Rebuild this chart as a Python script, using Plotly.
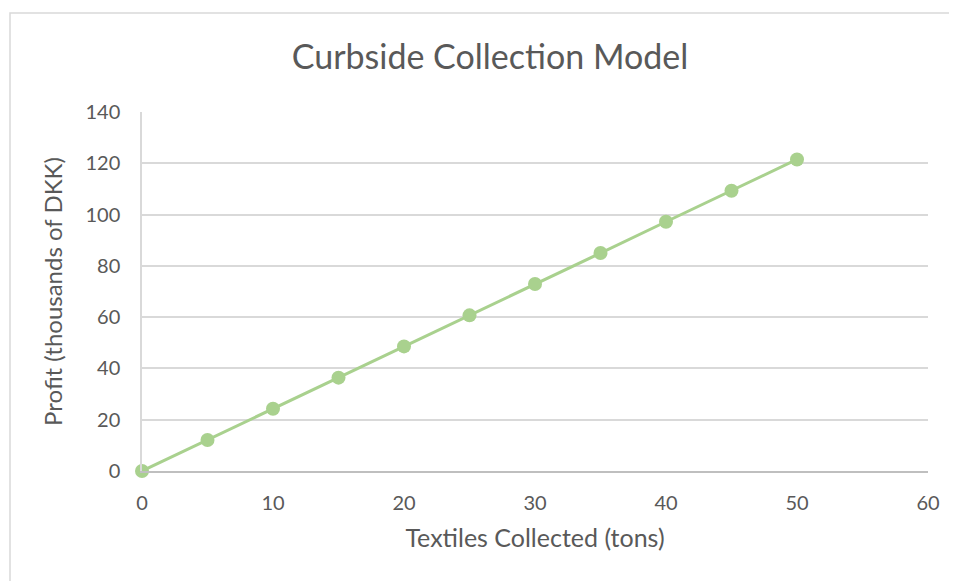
import plotly.graph_objects as go

tons = [0, 5, 10, 15, 20, 25, 30, 35, 40, 45, 50]
profit = [0, 12.1, 24.3, 36.4, 48.6, 60.7, 72.9, 85.0, 97.2, 109.3, 121.5]
x_ticks = [0, 10, 20, 30, 40, 50, 60]
y_ticks = [0, 20, 40, 60, 80, 100, 120, 140]

OFF = 8  # page body margin
W, H = 957 - OFF, 581 - OFF
# target pixel positions in the window
PL, PR, PT, PB = 142, 928, 112, 471
L, T = PL - OFF, PT - OFF
R = W - (PR - OFF)
B = H - (PB - OFF)
pw, ph = W - L - R, H - T - B

def px_x(p):
    return (p - OFF - L) / pw

def px_y(p):
    return (PB - p) / ph

green = "#A9D18E"
grey_text = "#595959"
font = "Lato"

fig = go.Figure()
fig.add_trace(go.Scatter(
    x=tons, y=profit, mode="lines+markers",
    line=dict(color=green, width=3),
    marker=dict(color=green, size=14),
    cliponaxis=False,
    showlegend=False, hoverinfo="x+y",
))

fig.update_layout(
    width=W, height=H,
    margin=dict(l=L, r=R, t=T, b=B),
    paper_bgcolor="white", plot_bgcolor="white",
    font=dict(family=font, color=grey_text, size=18),
    title=dict(text="Curbside Collection Model", x=px_x(490), xref="paper",
               xanchor="center", y=1 - (57 - OFF) / H, yref="container", yanchor="middle",
               font=dict(size=34, color=grey_text, family=font)),
    xaxis=dict(range=[0, 60], tickvals=x_ticks, showgrid=False, zeroline=False,
               showline=True, linecolor="#BFBFBF", linewidth=2,
               ticks="", ticklabelstandoff=13,
               tickfont=dict(size=20, color=grey_text),
               title=dict(text="Textiles Collected (tons)", standoff=16,
                          font=dict(size=25, color=grey_text))),
    yaxis=dict(range=[0, 140], tickvals=y_ticks, showgrid=True, gridcolor="#D9D9D9",
               gridwidth=1.5, zeroline=False, showline=True, linecolor="#D9D9D9",
               linewidth=1.5, ticks="", ticklabelstandoff=16,
               tickfont=dict(size=20, color=grey_text),
               title=dict(text="Profit (thousands of DKK)", standoff=16,
                          font=dict(size=24, color=grey_text))),
    shapes=[dict(type="rect", xref="paper", yref="paper",
                 x0=px_x(10), x1=px_x(957 + 5), y0=px_y(581 + 5), y1=px_y(13),
                 line=dict(color="#D9D9D9", width=1.5), layer="below")],
)

fig.write_html("out.html")
